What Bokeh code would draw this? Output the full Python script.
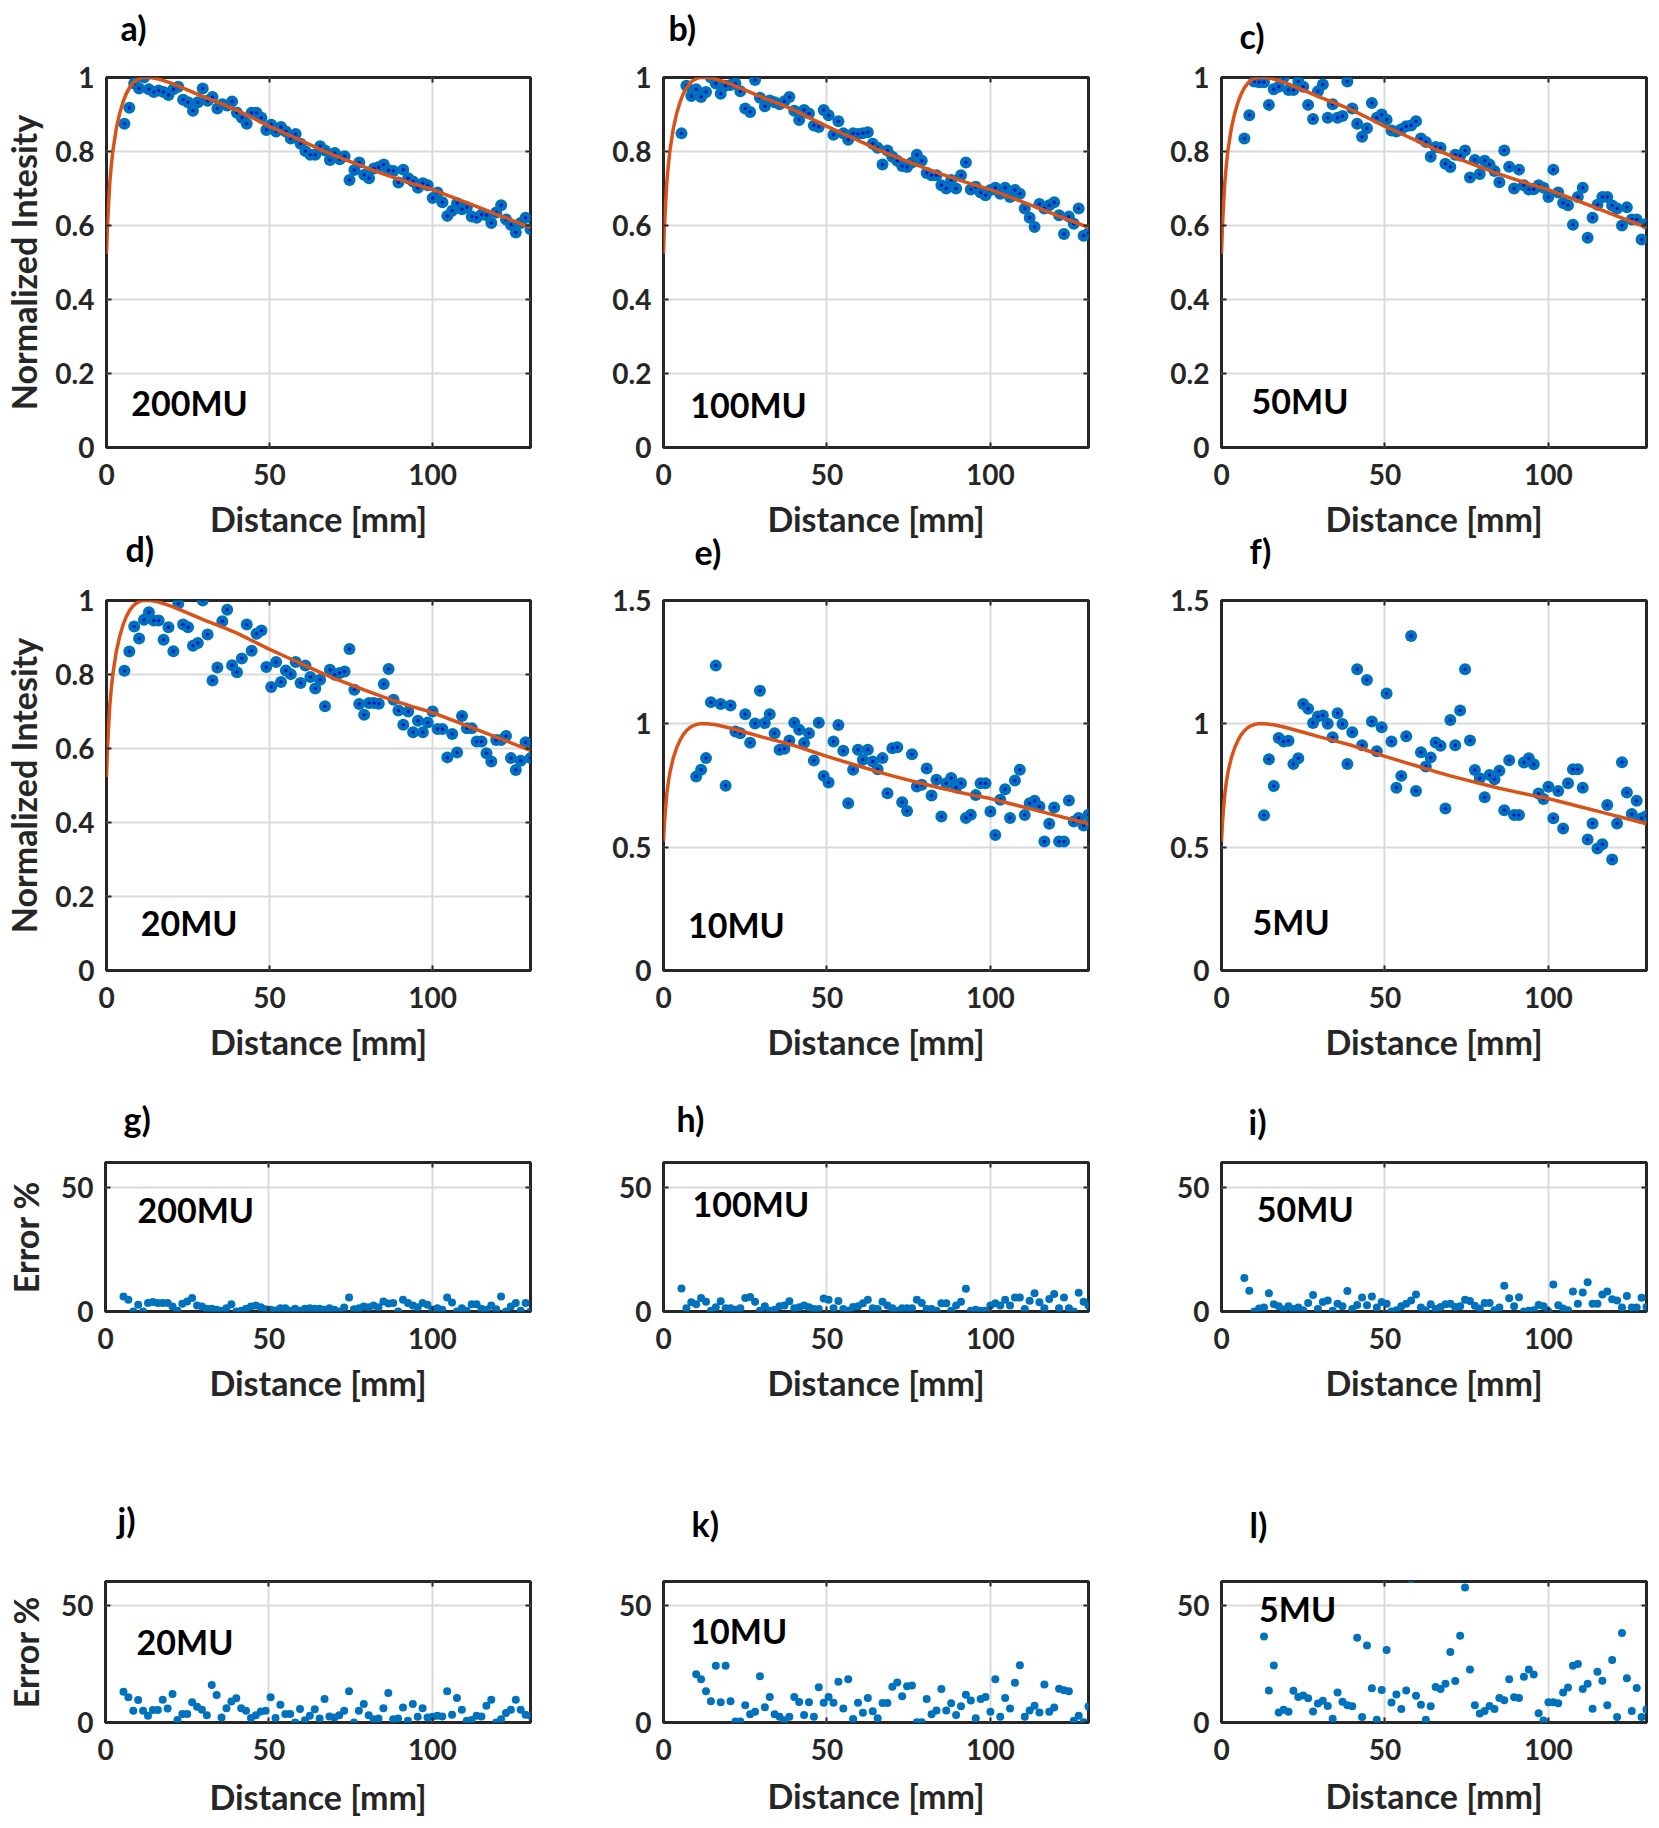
from bokeh.plotting import figure
from bokeh.layouts import column, row
from bokeh.models import FixedTicker, Label, LinearAxis
from bokeh.embed import file_html
from bokeh.resources import INLINE

# ---------------- data ----------------
DIST_MM = [5.5, 7.0, 8.5, 10.0, 11.5, 13.0, 14.5, 16.0, 17.5, 19.0, 20.5, 22.0, 23.5, 25.0,
           26.5, 28.0, 29.5, 31.0, 32.5, 34.0, 35.5, 37.0, 38.5, 40.0, 41.5, 43.0, 44.5, 46.0,
           47.5, 49.0, 50.5, 52.0, 53.5, 55.0, 56.5, 58.0, 59.5, 61.0, 62.5, 64.0, 65.5, 67.0,
           68.5, 70.0, 71.5, 73.0, 74.5, 76.0, 77.5, 79.0, 80.5, 82.0, 83.5, 85.0, 86.5, 88.0,
           89.5, 91.0, 92.5, 94.0, 95.5, 97.0, 98.5, 100.0, 101.5, 103.0, 104.5, 106.0, 107.5,
           109.0, 110.5, 112.0, 113.5, 115.0, 116.5, 118.0, 119.5, 121.0, 122.5, 124.0, 125.5,
           127.0, 128.5, 130.0]

FIT_X = [0, 0.25, 0.5, 1, 1.5, 2, 3, 4, 5, 6, 7, 8, 9, 10, 11, 12, 13, 14, 16, 18, 20, 25, 30,
         35, 40, 45, 50, 55, 60, 65, 70, 75, 80, 85, 90, 95, 100, 105, 110, 115, 120, 125, 130]
FIT_Y = [0.523, 0.59, 0.635, 0.715, 0.765, 0.805, 0.862, 0.902, 0.932, 0.955, 0.972, 0.984,
         0.992, 0.997, 1.0, 1.0, 1.0, 0.999, 0.996, 0.99, 0.984, 0.966, 0.947, 0.93, 0.912,
         0.89, 0.868, 0.848, 0.828, 0.808, 0.789, 0.772, 0.755, 0.739, 0.724, 0.71, 0.697,
         0.68, 0.663, 0.646, 0.629, 0.612, 0.595]

INT_200MU = [0.875, 0.918, 0.984, 0.970, 1.0, 0.968, 0.961, 0.965, 0.961, 0.953,
             0.968, 0.975, 0.940, 0.933, 0.910, 0.933, 0.970, 0.937, 0.947, 0.916,
             0.928, 0.924, 0.935, 0.905, 0.891, 0.875, 0.905, 0.905, 0.891, 0.858,
             0.872, 0.854, 0.866, 0.854, 0.835, 0.847, 0.821, 0.801, 0.791, 0.791,
             0.814, 0.803, 0.777, 0.796, 0.779, 0.787, 0.723, 0.750, 0.770, 0.737,
             0.728, 0.754, 0.758, 0.765, 0.749, 0.747, 0.716, 0.751, 0.728, 0.719,
             0.702, 0.714, 0.709, 0.674, 0.689, 0.663, 0.626, 0.640, 0.660, 0.644,
             0.649, 0.624, 0.621, 0.630, 0.628, 0.607, 0.635, 0.655, 0.616, 0.602,
             0.581, 0.607, 0.621, 0.590]
INT_100MU = [0.849, 0.978, 0.950, 0.968, 0.947, 0.961, 1.0, 0.984, 0.956, 0.978,
             0.980, 0.984, 0.963, 0.916, 0.907, 0.993, 0.945, 0.922, 0.938, 0.933,
             0.928, 0.936, 0.947, 0.910, 0.885, 0.912, 0.903, 0.870, 0.866, 0.912,
             0.898, 0.845, 0.882, 0.849, 0.832, 0.849, 0.847, 0.849, 0.852, 0.821,
             0.810, 0.765, 0.803, 0.786, 0.775, 0.761, 0.758, 0.770, 0.791, 0.775,
             0.742, 0.736, 0.736, 0.709, 0.700, 0.723, 0.700, 0.736, 0.770, 0.697,
             0.705, 0.689, 0.682, 0.696, 0.702, 0.686, 0.702, 0.677, 0.696, 0.686,
             0.646, 0.621, 0.596, 0.658, 0.646, 0.655, 0.663, 0.628, 0.577, 0.624,
             0.605, 0.646, 0.572, 0.579]
INT_50MU = [0.835, 0.898, 0.989, 0.987, 0.987, 0.926, 0.968, 0.975, 1.0, 0.966,
            0.966, 0.989, 0.975, 0.926, 0.888, 0.963, 0.981, 0.891, 0.928, 0.891,
            0.896, 0.989, 0.916, 0.875, 0.840, 0.863, 0.931, 0.891, 0.900, 0.886,
            0.857, 0.854, 0.860, 0.868, 0.870, 0.882, 0.835, 0.826, 0.786, 0.812,
            0.810, 0.767, 0.758, 0.791, 0.789, 0.803, 0.730, 0.777, 0.739, 0.775,
            0.765, 0.747, 0.717, 0.803, 0.759, 0.700, 0.751, 0.709, 0.697, 0.698,
            0.709, 0.702, 0.677, 0.751, 0.689, 0.661, 0.655, 0.602, 0.677, 0.702,
            0.567, 0.621, 0.656, 0.677, 0.677, 0.654, 0.646, 0.600, 0.649, 0.616,
            0.616, 0.562, 0.605]
INT_20MU = [0.810, 0.862, 0.930, 0.897, 0.948, 0.968, 0.946, 0.946, 0.894, 0.928,
            0.863, 0.991, 0.935, 0.928, 0.878, 0.885, 1.0, 0.908, 0.784, 0.819,
            0.944, 0.975, 0.825, 0.806, 0.843, 0.935, 0.864, 0.910, 0.919, 0.820,
            0.766, 0.834, 0.780, 0.811, 0.801, 0.834, 0.777, 0.824, 0.793, 0.762,
            0.786, 0.714, 0.813, 0.799, 0.804, 0.808, 0.869, 0.759, 0.720, 0.691,
            0.723, 0.723, 0.721, 0.774, 0.815, 0.732, 0.703, 0.664, 0.700, 0.644,
            0.675, 0.644, 0.670, 0.700, 0.653, 0.653, 0.576, 0.639, 0.589, 0.688,
            0.655, 0.655, 0.619, 0.619, 0.587, 0.565, 0.623, 0.623, 0.634, 0.574,
            0.542, 0.567, 0.617, 0.574]
INT_10MU = [0.786, 0.814, 0.861, 1.088, 1.236, 1.080, 0.749, 1.074, 0.969, 0.962,
            1.039, 0.923, 1.001, 1.134, 1.003, 1.039, 0.962, 0.895, 0.899, 0.932,
            1.004, 0.976, 0.922, 0.962, 0.851, 1.004, 0.789, 0.762, 0.928, 0.995,
            0.891, 0.678, 0.814, 0.895, 0.854, 0.895, 0.847, 0.816, 0.861, 0.719,
            0.901, 0.905, 0.682, 0.647, 0.877, 0.746, 0.753, 0.819, 0.709, 0.773,
            0.624, 0.759, 0.780, 0.742, 0.759, 0.618, 0.631, 0.711, 0.759, 0.759,
            0.645, 0.549, 0.692, 0.735, 0.618, 0.770, 0.814, 0.630, 0.678, 0.688,
            0.665, 0.523, 0.595, 0.661, 0.523, 0.523, 0.689, 0.604, 0.618, 0.588,
            0.631]
INT_5MU = [0.629, 0.856, 0.748, 0.943, 0.928, 0.931, 0.837, 0.860, 1.080, 1.061,
           1.003, 1.030, 1.034, 1.0, 0.946, 1.043, 0.999, 0.837, 0.966, 1.221,
           0.913, 1.178, 1.009, 0.889, 0.986, 1.123, 0.928, 0.741, 0.789, 0.950,
           1.356, 0.728, 0.885, 0.827, 0.864, 0.924, 0.911, 0.657, 1.016, 0.913,
           1.054, 1.221, 0.932, 0.813, 0.779, 0.702, 0.793, 0.775, 0.810, 0.650,
           0.852, 0.630, 0.630, 0.843, 0.860, 0.836, 0.718, 0.695, 0.745, 0.617,
           0.728, 0.576, 0.759, 0.816, 0.816, 0.741, 0.531, 0.596, 0.495, 0.512,
           0.671, 0.450, 0.596, 0.844, 0.722, 0.634, 0.688, 0.617, 0.626]

ERR_200MU = [6.0, 4.7, 0, 2.7, 0, 3.4, 3.8, 3.4, 3.4, 3.4,
             2.0, 0.3, 3.1, 4.0, 5.4, 2.4, 2.0, 1.1, 1.1, 0.7,
             0.3, 1.3, 2.9, 0, 0.3, 1.1, 2.0, 2.4, 1.7, 0.9,
             0.7, 0.4, 1.3, 1.3, 0.3, 1.1, 0.3, 1.1, 1.3, 1.1,
             1.1, 0.7, 1.3, 0.7, 0, 1.6, 5.6, 0.9, 1.3, 2.0,
             1.7, 2.4, 1.7, 4.0, 3.2, 3.4, 0, 4.7, 3.4, 2.4,
             1.7, 3.4, 2.7, 0.7, 1.3, 0.7, 5.6, 3.6, 0, 1.3,
             0.3, 2.9, 2.9, 1.1, 0.7, 2.4, 0.9, 6.0, 0, 2.0,
             3.4, 0.3, 3.4, 0]
ERR_100MU = [9.3, 1.3, 3.7, 2.9, 5.4, 3.9, 0.3, 1.7, 4.1, 1.3,
             1.3, 0.7, 1.3, 5.4, 5.8, 3.9, 0.3, 2.1, 0.3, 0.7,
             2.1, 2.4, 4.1, 1.3, 1.7, 2.4, 1.7, 1.0, 1.0, 5.2,
             4.7, 1.3, 4.2, 1.0, 0.3, 1.8, 2.1, 3.3, 4.7, 1.3,
             1.0, 3.9, 2.4, 1.3, 0.3, 1.3, 1.3, 1.3, 4.7, 3.4,
             1.0, 1.0, 0.3, 3.3, 3.3, 0.3, 2.4, 3.9, 9.2, 0.3,
             0.7, 0.3, 0.3, 2.4, 3.3, 2.4, 4.7, 2.4, 5.6, 5.6,
             1.0, 4.3, 7.3, 3.7, 1.3, 5.0, 7.0, 1.3, 5.6, 1.3,
             0, 7.6, 3.9, 2.4]
ERR_50MU = [13.5, 8.4, 0, 1.2, 1.6, 7.3, 2.9, 2.1, 0.8, 2.1,
            1.0, 1.6, 0.5, 3.4, 6.6, 1.0, 3.8, 4.4, 0.3, 3.1,
            2.1, 8.3, 1.0, 2.6, 5.6, 2.5, 6.0, 1.6, 3.8, 3.1,
            0, 0.5, 2.1, 3.1, 4.4, 6.8, 1.6, 0.5, 2.9, 1.0,
            1.8, 2.9, 3.1, 1.8, 2.1, 4.7, 4.2, 2.3, 1.2, 3.4,
            3.4, 0.5, 1.6, 10.4, 5.3, 2.1, 5.7, 0, 0.3, 0.5,
            2.6, 2.1, 0, 10.9, 2.5, 1.2, 0.5, 8.1, 3.1, 7.7,
            11.8, 3.1, 3.1, 6.8, 8.1, 4.9, 4.4, 1.6, 6.2, 1.6,
            1.6, 5.5, 1.8]
ERR_20MU = [13.1, 10.7, 5.0, 9.6, 5.0, 2.9, 5.3, 5.3, 9.7, 6.0,
            12.1, 1.1, 3.6, 3.6, 8.6, 6.7, 5.4, 3.1, 16.0, 11.7,
            2.1, 6.1, 8.9, 10.3, 6.1, 5.0, 1.9, 3.1, 4.7, 5.0,
            10.7, 1.9, 7.6, 3.6, 3.6, 0, 5.7, 1.0, 2.9, 5.6,
            1.7, 10.0, 2.6, 2.1, 3.1, 5.0, 13.3, 0, 5.0, 7.9,
            3.1, 1.4, 1.7, 6.1, 12.6, 1.4, 1.7, 6.4, 0.7, 7.9,
            2.4, 6.1, 2.1, 2.4, 2.9, 2.6, 13.3, 3.3, 10.4, 5.4,
            0.7, 1.1, 2.9, 2.6, 7.1, 9.7, 0, 1.4, 4.0, 5.4,
            9.7, 5.4, 3.3, 2.9]
ERR_10MU = [20.5, 18.4, 13.3, 9.0, 24.2, 8.6, 24.2, 9.0, 0.4, 0.4,
            7.3, 3.5, 4.6, 19.7, 6.5, 10.8, 3.5, 2.5, 1.0, 2.5,
            10.9, 8.7, 3.2, 8.6, 2.5, 15.0, 8.4, 10.9, 8.4, 17.3,
            6.0, 18.4, 1.5, 8.4, 4.2, 10.4, 4.8, 1.8, 8.3, 8.3,
            15.2, 17.0, 11.2, 15.4, 15.7, 0.1, 0.1, 10.0, 3.5, 5.1,
            14.3, 5.1, 8.2, 3.2, 6.9, 11.8, 9.4, 1.8, 10.0, 10.9,
            4.6, 18.4, 2.4, 10.4, 6.0, 16.9, 24.4, 2.4, 5.1, 7.1,
            4.3, 16.2, 4.6, 6.4, 14.4, 13.7, 13.3, 0.7, 2.9, 0.1,
            6.8]
ERR_5MU = [36.6, 13.6, 24.3, 4.3, 5.4, 4.6, 13.5, 10.9, 11.5, 10.3,
           4.7, 8.1, 9.3, 7.0, 1.6, 12.8, 8.8, 7.3, 6.9, 36.1,
           2.3, 32.8, 14.6, 1.2, 13.8, 30.8, 8.5, 11.9, 5.7, 13.6,
           61.0, 11.4, 7.6, 1.2, 6.9, 15.1, 14.3, 16.5, 30.0, 17.7,
           36.9, 57.5, 22.6, 7.3, 3.8, 4.9, 7.0, 5.7, 10.4, 9.5,
           18.4, 10.7, 10.4, 19.5, 22.6, 20.4, 3.9, 0.9, 8.6, 8.6,
           8.2, 12.8, 14.9, 24.2, 24.9, 14.3, 16.5, 5.8, 21.6, 17.8,
           7.3, 26.6, 2.3, 38.1, 18.8, 4.9, 14.7, 2.3, 5.5]

PANEL_LETTERS = ["a)", "b)", "c)", "d)", "e)", "f)", "g)", "h)", "i)", "j)", "k)", "l)"]
DOSE_LABELS = ["200MU", "100MU", "50MU", "20MU", "10MU", "5MU"]
X_TICKS = [0, 50, 100]
Y_TICKS_INT = [0, 0.2, 0.4, 0.6, 0.8, 1]
Y_TICKS_INT_WIDE = [0, 0.5, 1, 1.5]
Y_TICKS_ERR = [0, 50]
X_LABEL = "Distance [mm]"
Y_LABEL_INT = "Normalized Intesity"
Y_LABEL_ERR = "Error %"

# ---------------- styling / layout ----------------
FONT = "Lato"
TXT = "#262626"
BLUE = "#0072BD"
DOT = "#0a18c8"
ORANGE = "#D95319"
GRID = "#dadada"

FRAME_W = 425
COL_BL = [105, 93, 93]
COL_BR = [40, 40, 4]
BT = 134                                   # top border of every figure
ROW_H = [622, 622, 406, 373]
ROW_MARGIN = [(-57, 0), (-99, 0), (-60, 0), (13, -8)]   # (top, bottom) css margins
FRAME_H = [[370, 370, 370], [370, 370, 370], [149, 152, 154], [141, 144, 146]]
TITLE_OFF = [[14, 5, 18], [19, 31, 28], [18, 13, 27], [12, 28, 28]]
TITLE_STAND = [[60, 60, 44], [64, 58, 59], [47, 47, 42], [84, 76, 74]]
XTICK_STANDOFF = [[16] * 3, [16] * 3, [16] * 3, [16] * 3]
XLABEL_STANDOFF = [[10] * 3, [10] * 3, [10] * 3, [13, 12, 12]]
# dose text centre (data coords)
DOSE_POS = [[(7.6, 0.121), (8.2, 0.117), (9.2, 0.127)],
            [(10.5, 0.13), (7.5, 0.186), (9.5, 0.2)],
            [(9.8, 41.2), (8.9, 43.5), (10.8, 41.5)],
            [(9.5, 34.6), (8.2, 39.3), (11.5, 48.7)]]


def xs_for(vals):
    return DIST_MM[len(DIST_MM) - len(vals):]


def style_axis(ax):
    ax.axis_line_color = None
    ax.major_tick_in = 5
    ax.major_tick_out = 0
    ax.major_tick_line_color = TXT
    ax.major_tick_line_width = 2
    ax.minor_tick_line_color = None
    ax.major_label_text_font = FONT
    ax.major_label_text_font_size = "28px"
    ax.major_label_text_font_style = "bold"
    ax.major_label_text_color = TXT
    ax.axis_label_text_font = FONT
    ax.axis_label_text_font_size = "34px"
    ax.axis_label_text_font_style = "bold"
    ax.axis_label_text_color = TXT


def mirror_axis(ticks):
    ax = LinearAxis(ticker=FixedTicker(ticks=ticks))
    ax.axis_line_color = None
    ax.major_tick_in = 5
    ax.major_tick_out = 0
    ax.major_tick_line_color = TXT
    ax.major_tick_line_width = 2
    ax.minor_tick_line_color = None
    ax.major_label_text_font_size = "1px"
    ax.major_label_standoff = 0
    ax.major_label_overrides = {t: "" for t in ticks}
    return ax


def make_panel(r, c, kind, vals, dose, ymax, yticks):
    h = ROW_H[r]
    fh = FRAME_H[r][c]
    w = COL_BL[c] + FRAME_W + COL_BR[c]
    p = figure(width=w, height=h, x_range=(0, 130), y_range=(0, ymax),
               output_backend="svg", toolbar_location=None,
               min_border_left=COL_BL[c], min_border_right=COL_BR[c],
               min_border_top=BT, min_border_bottom=h - BT - fh,
               background_fill_color="white", border_fill_color=None)
    p.outline_line_color = TXT
    p.outline_line_width = 3

    t = p.title
    t.text = PANEL_LETTERS[r * 3 + c]
    t.text_font = FONT
    t.text_font_size = "34px"
    t.text_font_style = "bold"
    t.text_color = "black"
    t.align = "left"
    t.vertical_align = "bottom"
    t.offset = TITLE_OFF[r][c]
    t.standoff = TITLE_STAND[r][c]

    p.xaxis.ticker = FixedTicker(ticks=X_TICKS)
    p.yaxis.ticker = FixedTicker(ticks=yticks)
    p.yaxis.major_label_overrides = {0: "0", 1: "1"}
    style_axis(p.xaxis[0])
    style_axis(p.yaxis[0])
    p.xaxis.major_label_standoff = XTICK_STANDOFF[r][c]
    p.yaxis.major_label_standoff = 12
    p.xaxis.axis_label = X_LABEL
    p.xaxis.axis_label_standoff = XLABEL_STANDOFF[r][c]
    if c == 0:
        p.yaxis.axis_label = Y_LABEL_INT if kind == "int" else Y_LABEL_ERR
        p.yaxis.axis_label_standoff = 8 if kind == "int" else 12
    p.add_layout(mirror_axis(X_TICKS), "above")
    p.add_layout(mirror_axis(yticks), "right")

    p.xgrid.ticker = FixedTicker(ticks=X_TICKS)
    p.ygrid.ticker = FixedTicker(ticks=yticks)
    for g in (p.xgrid[0], p.ygrid[0]):
        g.grid_line_color = GRID
        g.grid_line_width = 2

    xs = xs_for(vals)
    if kind == "int":
        p.scatter(xs, vals, size=12, fill_color=BLUE, line_color=None)
        p.scatter(xs, vals, size=3.5, fill_color=DOT, line_color=None)
        p.line(FIT_X, FIT_Y, line_color=ORANGE, line_width=3.5)
    else:
        p.scatter(xs, vals, size=8, fill_color=BLUE, line_color=None)

    dx, dy = DOSE_POS[r][c]
    p.add_layout(Label(x=dx, y=dy, text=dose, text_font=FONT, text_font_size="34px",
                       text_font_style="bold", text_color="black",
                       text_baseline="middle"))
    return p


INT_SERIES = [INT_200MU, INT_100MU, INT_50MU, INT_20MU, INT_10MU, INT_5MU]
ERR_SERIES = [ERR_200MU, ERR_100MU, ERR_50MU, ERR_20MU, ERR_10MU, ERR_5MU]

rows = []
for r in range(4):
    figs = []
    for c in range(3):
        if r < 2:
            i = r * 3 + c
            wide = (r == 1 and c > 0)
            figs.append(make_panel(r, c, "int", INT_SERIES[i], DOSE_LABELS[i],
                                   1.5 if wide else 1.0,
                                   Y_TICKS_INT_WIDE if wide else Y_TICKS_INT))
        else:
            i = (r - 2) * 3 + c
            figs.append(make_panel(r, c, "err", ERR_SERIES[i], DOSE_LABELS[i],
                                   60, Y_TICKS_ERR))
    mt, mb = ROW_MARGIN[r]
    rows.append(row(*figs, spacing=0, margin=(mt, 0, mb, 0)))

layout = column(*rows, spacing=0)
open("out.html", "w").write(file_html(layout, INLINE))
